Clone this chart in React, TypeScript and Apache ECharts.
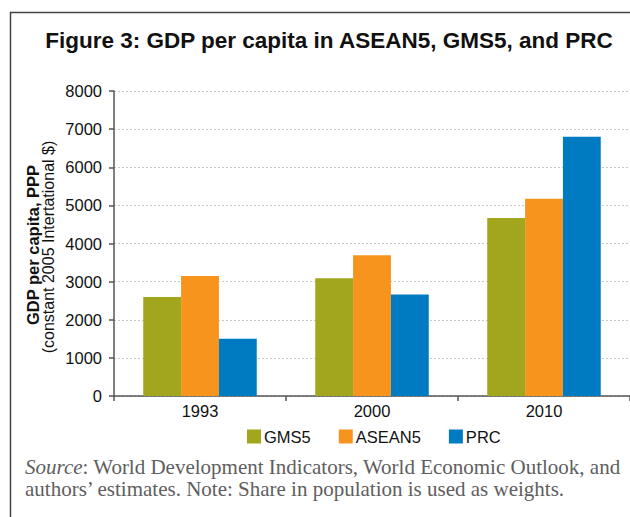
import React, { useEffect, useRef } from "react";
import * as echarts from "echarts";

const categories = ["1993", "2000", "2010"];
const gms5 = [2600, 3090, 4670];
const asean5 = [3150, 3690, 5175];
const prc = [1500, 2660, 6800];
const yTicks = { min: 0, max: 8000, interval: 1000 };

const SANS = "'Liberation Sans', Arial, sans-serif";
const SERIF = "'Liberation Serif', 'Times New Roman', serif";

export default function App() {
  const ref = useRef<HTMLDivElement>(null);
  useEffect(() => {
    if (!ref.current) return;
    const chart = echarts.init(ref.current, undefined, { renderer: "svg" });
    chart.setOption({
      animation: false,
      backgroundColor: "#ffffff",
      title: {
        text: "Figure 3: GDP per capita in ASEAN5, GMS5, and PRC",
        left: 324,
        top: 24,
        textAlign: "center",
        textStyle: { fontFamily: SANS, fontWeight: "bold", fontSize: 22.5, color: "#111" },
      },
      legend: {
        left: 242,
        top: 423,
        itemWidth: 14,
        itemHeight: 14,
        itemGap: 28,
        icon: "rect",
        textStyle: { fontFamily: SANS, fontSize: 16.5, color: "#111", padding: [0, 0, 0, -2] },
        data: ["GMS5", "ASEAN5", "PRC"],
      },
      grid: { left: 114, top: 91, width: 520, height: 305, containLabel: false },
      xAxis: {
        type: "category",
        data: categories,
        axisLine: { lineStyle: { color: "#555", width: 1.5 } },
        axisTick: { show: true, length: 5, inside: false, lineStyle: { color: "#555", width: 1.5 } },
        axisLabel: { fontFamily: SANS, fontSize: 16.5, color: "#111", margin: 6 },
      },
      yAxis: {
        type: "value",
        min: yTicks.min,
        max: yTicks.max,
        interval: yTicks.interval,
        axisLine: { show: true, lineStyle: { color: "#555", width: 1.5 } },
        axisTick: { show: true, length: 5, lineStyle: { color: "#555", width: 1.5 } },
        axisLabel: {
          fontFamily: SANS,
          fontSize: 16.5,
          color: "#111",
          margin: 12,
          formatter: (v: number) => String(v),
        },
        splitLine: { show: true, lineStyle: { color: "#c8c8c8", type: [2, 2], width: 1 } },
      },
      series: [
        { name: "GMS5", type: "bar", data: gms5, barGap: "0%", barCategoryGap: "34%", itemStyle: { color: "#A1A61C" } },
        { name: "ASEAN5", type: "bar", data: asean5, barGap: "0%", barCategoryGap: "34%", itemStyle: { color: "#F7941E" } },
        { name: "PRC", type: "bar", data: prc, barGap: "0%", barCategoryGap: "34%", itemStyle: { color: "#007AC1" } },
      ],
      graphic: [
        {
          type: "rect",
          silent: true,
          shape: { x: 10.5, y: 12.5, width: 700, height: 600 },
          style: { fill: "none", stroke: "#444", lineWidth: 1.5 },
        },
        {
          type: "text",
          x: 33,
          y: 245,
          rotation: Math.PI / 2,
          style: {
            text: "GDP per capita, PPP",
            fontFamily: SANS,
            fontWeight: "bold",
            fontSize: 16.5,
            fill: "#111",
            align: "center",
            verticalAlign: "middle",
          },
        },
        {
          type: "text",
          x: 48.5,
          y: 247,
          rotation: Math.PI / 2,
          style: {
            text: "(constant 2005 Intertational $)",
            fontFamily: SANS,
            fontSize: 16,
            fill: "#111",
            align: "center",
            verticalAlign: "middle",
          },
        },
        {
          type: "text",
          x: 25,
          y: 467,
          style: {
            text: "{i|Source}: World Development Indicators, World Economic Outlook, and",
            fontFamily: SERIF,
            fontSize: 21,
            fill: "#5e5e5e",
            verticalAlign: "middle",
            rich: { i: { fontStyle: "italic", fontFamily: SERIF, fontSize: 21, fill: "#5e5e5e" } },
          },
        },
        {
          type: "text",
          x: 25,
          y: 489,
          style: {
            text: "authors\u2019 estimates. Note: Share in population is used as weights.",
            fontFamily: SERIF,
            fontSize: 21,
            fill: "#5e5e5e",
            verticalAlign: "middle",
          },
        },
      ],
    });
    return () => chart.dispose();
  }, []);
  return (
    <div
      ref={ref}
      style={{ position: "absolute", left: 0, top: 0, width: 630, height: 517 }}
    />
  );
}
